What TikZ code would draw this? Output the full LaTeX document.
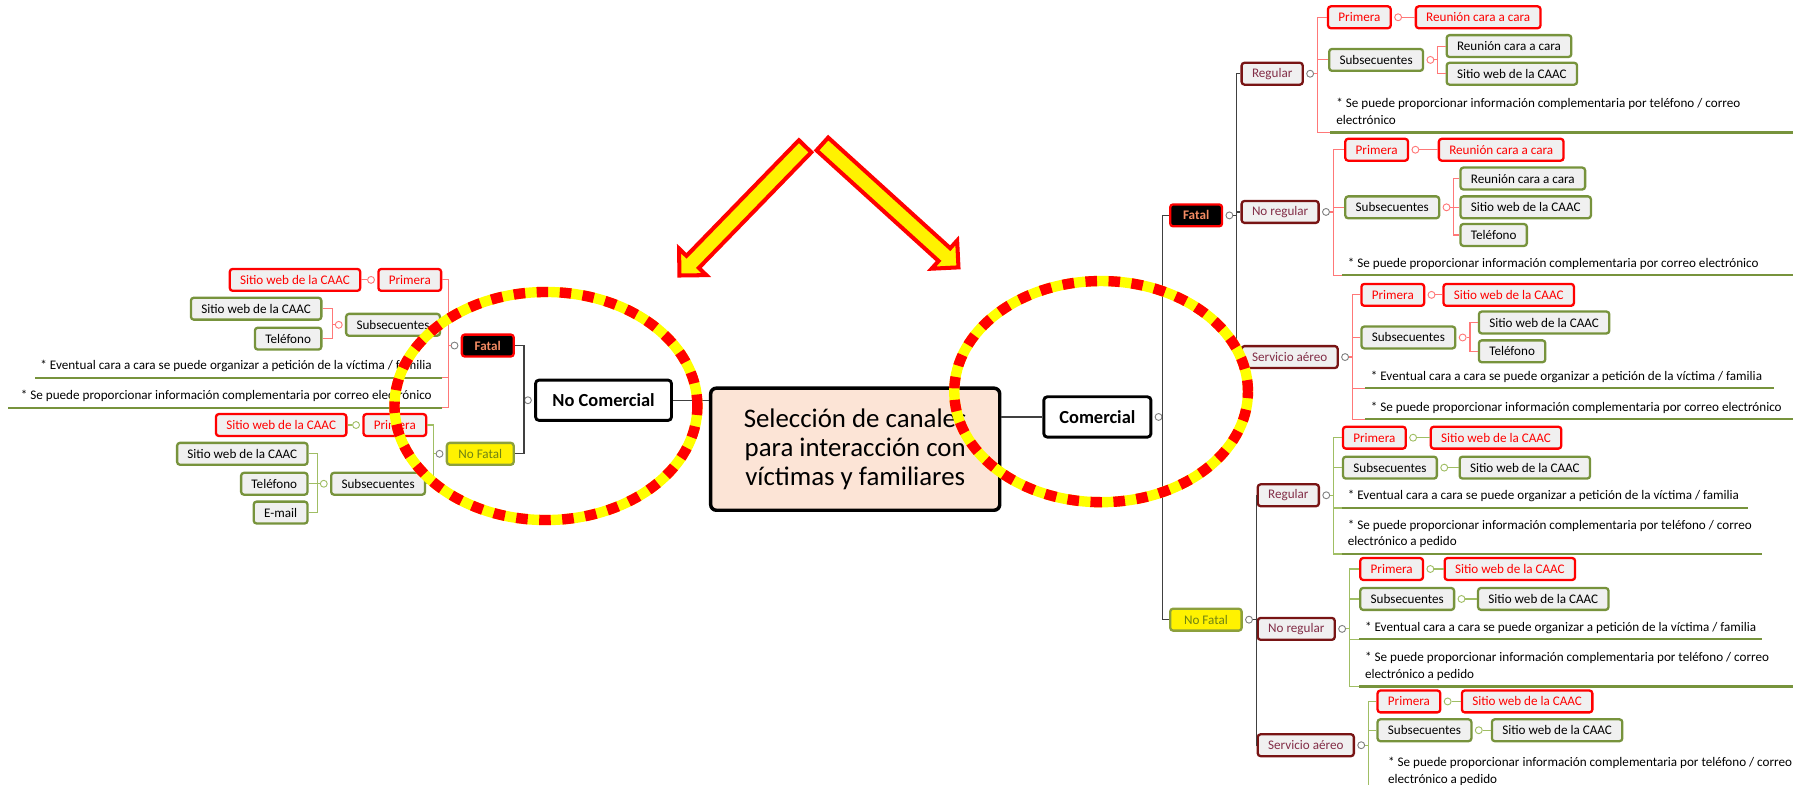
\documentclass[tikz,border=0pt]{standalone}
\usepackage{fontspec}
\setmainfont{Carlito}
\usetikzlibrary{positioning}
\definecolor{boxgrn}{RGB}{119,147,60}
\definecolor{nfgrn}{RGB}{140,160,60}
\definecolor{olivetxt}{RGB}{110,130,20}
\definecolor{boxfill}{RGB}{240,240,240}
\definecolor{catred}{RGB}{120,20,20}
\definecolor{cattxt}{RGB}{130,45,70}
\definecolor{lnred}{RGB}{255,120,120}
\definecolor{lngrn}{RGB}{160,190,100}
\definecolor{peach}{RGB}{252,228,214}
\definecolor{salmon}{RGB}{245,140,100}
\definecolor{ringyel}{RGB}{255,255,0}
\newcommand{\smallsz}{\fontsize{11.4}{14.5}\selectfont}

\begin{document}
\begin{tikzpicture}[x=1pt, y=-1pt,
    box/.style={rounded corners=2.5pt, line width=2pt, fill=boxfill, font=\smallsz, minimum height=19pt, inner xsep=9pt, inner ysep=0pt},
    grn/.style={box, draw=boxgrn},
    rd/.style={box, draw=red, text=red},
    cat/.style={box, draw=catred, text=cattxt},
    fat/.style={box, draw=red, fill=black, text=salmon, font=\smallsz\bfseries, inner xsep=6pt},
    nofat/.style={box, draw=nfgrn, fill=yellow, text=olivetxt, inner xsep=6pt},
    branch/.style={draw, line width=2.5pt, rounded corners=3pt, fill=white, font=\fontsize{16}{19}\selectfont\bfseries, minimum height=35pt},
    root/.style={draw, line width=3pt, rounded corners=5pt, fill=peach, align=center, minimum width=251pt, minimum height=106pt, font=\fontsize{23.3}{25.3}\selectfont},
    mk/.style={circle, draw=gray, fill=white, line width=0.8pt, inner sep=0pt, minimum size=6pt},
    mkr/.style={mk, draw=lnred},
    mkg/.style={mk, draw=lngrn},
    lk/.style={line width=1pt, black!75},
    lr/.style={line width=1pt, lnred},
    lg/.style={line width=1pt, lngrn},
    note/.style={font=\smallsz, align=left, anchor=south west, inner xsep=5pt, inner ysep=2.5pt, execute at end node=\strut},
    notel/.style={note, anchor=south east, inner xsep=9pt},
    uline/.style={line width=2pt, boxgrn},
    ringbase/.style={line width=9pt, draw=ringyel},
    ring/.style={line width=9pt, draw=red, dash pattern=on 10pt off 10pt},
    bigarrow/.style={draw=red, fill=yellow, line width=3.5pt}
  ]
  \useasboundingbox (0,0) rectangle (1568,681);
  \clip (0,0) rectangle (1568,681);

  \node[root] (root) at (742.5,390) {Selección de canales\\para interacción con\\víctimas y familiares};

  % No Comercial
  \node[branch, minimum width=118pt] (ncom) at (524,347.5) {No Comercial};
  \node[mk, left=2pt of ncom] (ncomM) {};
  \node[fat, anchor=east, minimum width=45pt] (fatL) at (447,300) {Fatal};
  \node[mk, left=2pt of fatL] (fatLM) {};
  \node[nofat, anchor=east, minimum width=58pt] (nfatL) at (447,394) {No Fatal};
  \node[mk, left=2pt of nfatL] (nfatLM) {};

  \node[rd, anchor=east] (fLp) at (384,243) {Primera};
  \node[mkr, left=2pt of fLp] (fLpM) {};
  \node[rd, left=5pt of fLpM] (fLpa) {Sitio web de la CAAC};
  \node[grn, anchor=east] (fLs) at (383,282) {Subsecuentes};
  \node[mkr, left=2pt of fLs] (fLsM) {};
  \node[grn, anchor=east] (fLsa) at (280,268) {Sitio web de la CAAC};
  \node[grn, anchor=east] (fLsb) at (280,294) {Teléfono};
  \node[notel] (fLn1) at (384,328) {* Eventual cara a cara se puede organizar a petición de la víctima / familia};
  \node[notel] (fLn2) at (384,354) {* Se puede proporcionar información complementaria por correo electrónico};

  \node[rd, anchor=east] (nLp) at (371,369) {Primera};
  \node[mkg, left=2pt of nLp] (nLpM) {};
  \node[rd, left=4pt of nLpM] (nLpa) {Sitio web de la CAAC};
  \node[grn, anchor=east] (nLs) at (370,420) {Subsecuentes};
  \node[mkg, left=2pt of nLs] (nLsM) {};
  \node[grn, anchor=east] (nLsa) at (268,394) {Sitio web de la CAAC};
  \node[grn, anchor=east] (nLsb) at (268,420) {Teléfono};
  \node[grn, anchor=east] (nLsc) at (268,445) {E-mail};

  \draw[lk] (ncom.east) -- (ncom.east -| root.west);
  \foreach \c in {fatL,nfatL} \draw[lk] (ncomM.west) |- (\c.east);
  \foreach \c in {fLp.east,fLs.east,fLn1.south east,fLn2.south east} \draw[lr] (fatLM.west) -- ++(-2,0) |- (\c);
  \draw[lr] (fLpM) -- (fLpa);
  \foreach \c in {fLsa,fLsb} \draw[lr] (fLsM.west) -- ++(-2,0) |- (\c.east);
  \draw[uline] (fLn1.south east) -- ++(-354,0);
  \draw[uline] (fLn2.south east) -- ++(-377,0);
  \foreach \c in {nLp,nLs} \draw[lg] (nfatLM.west) -- ++(-2,0) |- (\c.east);
  \draw[lg] (nLpM) -- (nLpa);
  \foreach \c in {nLsa,nLsb,nLsc} \draw[lg] (nLsM.west) -- ++(-2,0) |- (\c.east);

  % Comercial
  \node[branch, anchor=west, minimum width=93pt] (com) at (905,362) {Comercial};
  \node[mk, right=2pt of com] (comM) {};
  \node[fat, anchor=west, minimum width=45pt] (fatR) at (1015,187) {Fatal};
  \node[mk, right=2pt of fatR] (fatRM) {};
  \node[nofat, anchor=west, minimum width=62pt] (nfatR) at (1015,538) {No Fatal};
  \node[mk, right=2pt of nfatR] (nfatRM) {};

  \node[cat, anchor=west] (reg1) at (1077,64) {Regular};
  \node[mk, right=2pt of reg1] (reg1M) {};
  \node[cat, anchor=west] (nreg1) at (1077,184) {No regular};
  \node[mk, right=2pt of nreg1] (nreg1M) {};
  \node[cat, anchor=west] (aer1) at (1077,310) {Servicio aéreo};
  \node[mk, right=2pt of aer1] (aer1M) {};
  \node[cat, anchor=west] (reg2) at (1091,430) {Regular};
  \node[mk, right=2pt of reg2] (reg2M) {};
  \node[cat, anchor=west] (nreg2) at (1091,546) {No regular};
  \node[mk, right=2pt of nreg2] (nreg2M) {};
  \node[cat, anchor=west] (aer2) at (1091,647) {Servicio aéreo};
  \node[mk, right=2pt of aer2] (aer2M) {};

  \node[rd, anchor=west] (reg1p) at (1152,15) {Primera};
  \node[mkr, right=2pt of reg1p] (reg1pM) {};
  \node[rd, right=11pt of reg1pM] (reg1pa) {Reunión cara a cara};
  \node[grn, anchor=west] (reg1s) at (1153,52) {Subsecuentes};
  \node[mkr, right=2pt of reg1s] (reg1sM) {};
  \node[grn, anchor=west] (reg1sa) at (1255,40) {Reunión cara a cara};
  \node[grn, anchor=west] (reg1sb) at (1255,64) {Sitio web de la CAAC};
  \node[note] (reg1n) at (1155,115) {* Se puede proporcionar información complementaria por teléfono / correo\\electrónico};

  \node[rd, anchor=west] (nreg1p) at (1167,130) {Primera};
  \node[mkr, right=2pt of nreg1p] (nreg1pM) {};
  \node[rd, right=16pt of nreg1pM] (nreg1pa) {Reunión cara a cara};
  \node[grn, anchor=west] (nreg1s) at (1167,180) {Subsecuentes};
  \node[mkr, right=2pt of nreg1s] (nreg1sM) {};
  \node[grn, anchor=west] (nreg1sa) at (1267,155) {Reunión cara a cara};
  \node[grn, anchor=west] (nreg1sb) at (1267,180) {Sitio web de la CAAC};
  \node[grn, anchor=west] (nreg1sc) at (1267,204) {Teléfono};
  \node[note] (nreg1n) at (1165,239) {* Se puede proporcionar información complementaria por correo electrónico};

  \node[rd, anchor=west] (aer1p) at (1181,256) {Primera};
  \node[mkr, right=2pt of aer1p] (aer1pM) {};
  \node[rd, right=6pt of aer1pM] (aer1pa) {Sitio web de la CAAC};
  \node[grn, anchor=west] (aer1s) at (1181,293) {Subsecuentes};
  \node[mkr, right=2pt of aer1s] (aer1sM) {};
  \node[grn, anchor=west] (aer1sa) at (1283,280) {Sitio web de la CAAC};
  \node[grn, anchor=west] (aer1sb) at (1283,305) {Teléfono};
  \node[note] (aer1n1) at (1185,337) {* Eventual cara a cara se puede organizar a petición de la víctima / familia};
  \node[note] (aer1n2) at (1185,364) {* Se puede proporcionar información complementaria por correo electrónico};

  \node[rd, anchor=west] (reg2p) at (1165,380) {Primera};
  \node[mkg, right=2pt of reg2p] (reg2pM) {};
  \node[rd, right=11pt of reg2pM] (reg2pa) {Sitio web de la CAAC};
  \node[grn, anchor=west] (reg2s) at (1165,406) {Subsecuentes};
  \node[mkg, right=2pt of reg2s] (reg2sM) {};
  \node[grn, right=9pt of reg2sM] (reg2sa) {Sitio web de la CAAC};
  \node[note] (reg2n1) at (1165,441) {* Eventual cara a cara se puede organizar a petición de la víctima / familia};
  \node[note] (reg2n2) at (1165,481) {* Se puede proporcionar información complementaria por teléfono / correo\\electrónico a pedido};

  \node[rd, anchor=west] (nreg2p) at (1180,494) {Primera};
  \node[mkg, right=2pt of nreg2p] (nreg2pM) {};
  \node[rd, right=8pt of nreg2pM] (nreg2pa) {Sitio web de la CAAC};
  \node[grn, anchor=west] (nreg2s) at (1180,520) {Subsecuentes};
  \node[mkg, right=2pt of nreg2s] (nreg2sM) {};
  \node[grn, right=10pt of nreg2sM] (nreg2sa) {Sitio web de la CAAC};
  \node[note] (nreg2n1) at (1180,555) {* Eventual cara a cara se puede organizar a petición de la víctima / familia};
  \node[note] (nreg2n2) at (1180,596) {* Se puede proporcionar información complementaria por teléfono / correo\\electrónico a pedido};

  \node[rd, anchor=west] (aer2p) at (1195,609) {Primera};
  \node[mkg, right=2pt of aer2p] (aer2pM) {};
  \node[rd, right=8pt of aer2pM] (aer2pa) {Sitio web de la CAAC};
  \node[grn, anchor=west] (aer2s) at (1195,634) {Subsecuentes};
  \node[mkg, right=2pt of aer2s] (aer2sM) {};
  \node[grn, right=7pt of aer2sM] (aer2sa) {Sitio web de la CAAC};
  \node[note] (aer2n) at (1200,687) {* Se puede proporcionar información complementaria por teléfono / correo\\electrónico a pedido};

  \draw[lk] (com.west) -- (com.west -| root.east);
  \foreach \c in {fatR,nfatR} \draw[lk] (comM.east) |- (\c.west);
  \foreach \c in {reg1,nreg1,aer1} \draw[lk] (fatRM.east) -- ++(3,0) |- (\c.west);
  \foreach \c in {reg2,nreg2,aer2} \draw[lk] (nfatRM.east) -- ++(3,0) |- (\c.west);

  \foreach \c in {reg1p.west,reg1s.west,reg1n.south west} \draw[lr] (reg1M.east) -- ++(3,0) |- (\c);
  \foreach \c in {reg1sa,reg1sb} \draw[lr] (reg1sM.east) -- ++(3,0) |- (\c.west);
  \foreach \c in {nreg1p.west,nreg1s.west,nreg1n.south west} \draw[lr] (nreg1M.east) -- ++(3,0) |- (\c);
  \foreach \c in {nreg1sa,nreg1sb,nreg1sc} \draw[lr] (nreg1sM.east) -- ++(3,0) |- (\c.west);
  \foreach \c in {aer1p.west,aer1s.west,aer1n1.south west,aer1n2.south west} \draw[lr] (aer1M.east) -- ++(3,0) |- (\c);
  \foreach \c in {aer1sa,aer1sb} \draw[lr] (aer1sM.east) -- ++(3,0) |- (\c.west);
  \foreach \p in {reg1p,nreg1p,aer1p} \draw[lr] (\p M) -- (\p a);

  \foreach \c in {reg2p.west,reg2s.west,reg2n1.south west,reg2n2.south west} \draw[lg] (reg2M.east) -- ++(3,0) |- (\c);
  \foreach \c in {nreg2p.west,nreg2s.west,nreg2n1.south west,nreg2n2.south west} \draw[lg] (nreg2M.east) -- ++(3,0) |- (\c);
  \foreach \c in {aer2p.west,aer2s.west,aer2n.south west} \draw[lg] (aer2M.east) -- ++(3,0) |- (\c);
  \foreach \p in {reg2p,reg2s,nreg2p,nreg2s,aer2p,aer2s} \draw[lg] (\p M) -- (\p a);

  \draw[uline] (reg1n.south west) -- ++(402,0);
  \draw[uline] (nreg1n.south west) -- ++(392,0);
  \draw[uline] (aer1n1.south west) -- ++(355,0);
  \draw[uline] (aer1n2.south west) -- ++(372,0);
  \draw[uline] (reg2n1.south west) -- ++(353,0);
  \draw[uline] (reg2n2.south west) -- ++(365,0);
  \draw[uline] (nreg2n1.south west) -- ++(350,0);
  \draw[uline] (nreg2n2.south west) -- ++(377,0);
  \draw[uline] (aer2n.south west) -- ++(357,0);

  \foreach \s in {ringbase,ring} {
    \draw[\s] (474,352.5) ellipse [x radius=131.5pt, y radius=99pt];
    \draw[\s] (956,340) ellipse [x radius=127.5pt, y radius=96pt];
  }

  \begin{scope}[shift={(699,127)}, rotate=225.8]
    \draw[bigarrow] (0,-7.5) -- (140,-7.5) -- (140,-16.5) -- (156.5,0) -- (140,16.5) -- (140,7.5) -- (0,7.5) -- cycle;
  \end{scope}
  \begin{scope}[shift={(714,125)}, rotate=-42.2]
    \draw[bigarrow] (0,-7.5) -- (143,-7.5) -- (143,-16.5) -- (159.5,0) -- (143,16.5) -- (143,7.5) -- (0,7.5) -- cycle;
  \end{scope}
\end{tikzpicture}
\end{document}
